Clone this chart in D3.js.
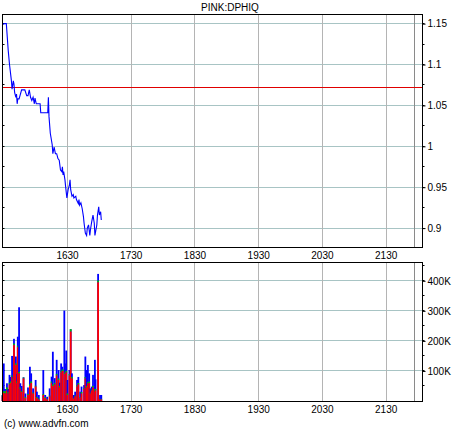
<!DOCTYPE html>
<html>
<head>
<meta charset="utf-8">
<script src="https://cdn.jsdelivr.net/npm/d3@7"></script>
<style>
html,body{margin:0;padding:0;background:#fff;}
svg text{font-family:"Liberation Sans",Arial,sans-serif;font-size:10px;fill:#000;}
</style>
</head>
<body>
<svg id="chart" width="460" height="430"></svg>
<script>
// ---- data ----
const title = "PINK:DPHIQ";
const xTickValues = [1630, 1730, 1830, 1930, 2030, 2130];
const markerDay = 2175;
const refPrice = 1.072;
const priceTicks = [0.9, 0.95, 1, 1.05, 1.1, 1.15];
const priceTickLabels = ["0.9", "0.95", "1", "1.05", "1.1", "1.15"];
const volTicks = [100000, 200000, 300000, 400000];
const volTickLabels = ["100K", "200K", "300K", "400K"];

const priceDays = [1528,1531,1534,1537,1539,1542,1543,1545,1546,1547,1549,1550,1551,1552,1554,1558,1563,1566,1568,1570,1572,1574,1576,1578,1579,1581,1587,1588,1599,1600,1601,1603,1606,1607,1609,1611,1613,1615,1617,1619,1621,1622,1623,1624,1626,1627,1629,1631,1633,1634,1635,1637,1639,1640,1643,1644,1647,1648,1649,1651,1653,1655,1656,1658,1660,1661,1663,1665,1666,1668,1670,1672,1673,1676,1677,1679,1680,1682,1683];
const priceValues = [1.149,1.150,1.150,1.117,1.100,1.080,1.070,1.080,1.076,1.066,1.060,1.064,1.052,1.058,1.058,1.069,1.069,1.062,1.062,1.069,1.060,1.056,1.060,1.052,1.059,1.052,1.052,1.041,1.041,1.060,1.036,1.016,1.002,0.991,0.999,0.991,0.991,0.985,0.983,0.971,0.969,0.975,0.965,0.969,0.959,0.951,0.937,0.947,0.953,0.959,0.947,0.939,0.941,0.937,0.939,0.935,0.930,0.935,0.928,0.931,0.924,0.914,0.906,0.894,0.891,0.900,0.904,0.891,0.898,0.908,0.916,0.906,0.891,0.904,0.916,0.926,0.916,0.920,0.910];

const volDays  = [1528,1530,1532,1535,1537,1539,1541,1543,1545,1546,1549,1551,1552,1554,1556,1558,1561,1564,1568,1571,1573,1576,1580,1582,1585,1592,1595,1598,1602,1605,1607,1610,1613,1616,1618,1620,1622,1625,1626,1628,1630,1633,1635,1637,1640,1642,1645,1647,1650,1652,1656,1658,1660,1662,1664,1666,1668,1670,1673,1674,1678,1681,1683];
const volTotal = [20,125,40,59,40,87,80,150,109,207,148,90,214,312,59,50,79,25,45,114,92,42,70,31,20,103,20,14,42,81,164,76,137,103,61,125,114,301,125,168,70,103,239,92,20,31,70,80,31,48,53,148,103,120,92,42,48,87,137,72,423,20,20];
const volRed   = [15,27,25,35,25,55,60,80,70,186,120,60,179,92,40,30,75,10,20,50,60,25,48,10,5,20,10,5,15,60,50,55,85,70,45,95,100,100,90,95,20,85,231,75,8,15,48,55,10,25,40,75,45,58,60,25,35,45,30,35,395,5,5];
const volGreen = [3,5,8,10,5,5,5,5,5,5,5,5,5,5,5,3,3,3,3,5,5,3,3,3,3,3,3,2,3,5,5,5,5,5,5,5,5,5,5,5,5,5,8,5,2,3,5,5,3,5,3,5,5,5,5,3,3,5,10,5,6,2,2];
const volUnit = 1000;

// ---- layout ----
const svg = d3.select("#chart");
const L = 2.5, R = 422.5;
const top1 = 14.5, bot1 = 247.5;
const top2 = 262.5, bot2 = 401;

const x = d3.scaleLinear().domain([1528, 2187]).range([L, R]);
const yP = d3.scaleLinear().domain([0.8763, 1.1612]).range([bot1, top1]);
const yV = d3.scaleLinear().domain([0, 461000]).range([bot2, top2]);

const hCol = "#a8c4c4", vCol = "#b4b4b4";
const crisp = v => Math.round(v) + 0.5;

// title
svg.append("text").attr("x", 230).attr("y", 11).attr("text-anchor", "middle").text(title);

function panel(yScale, top, bot, ticks, labels, minorStep, domainTop) {
  const g = svg.append("g");
  g.selectAll(".hg").data(ticks).join("line")
    .attr("x1", L).attr("x2", R)
    .attr("y1", d => crisp(yScale(d) - 0.5)).attr("y2", d => crisp(yScale(d) - 0.5))
    .attr("stroke", hCol).attr("stroke-width", 1);
  g.selectAll(".vg").data(xTickValues).join("line")
    .attr("x1", d => crisp(x(d) - 0.5)).attr("x2", d => crisp(x(d) - 0.5))
    .attr("y1", top).attr("y2", bot)
    .attr("stroke", vCol).attr("stroke-width", 1);
  g.append("line")
    .attr("x1", crisp(x(markerDay) - 0.5)).attr("x2", crisp(x(markerDay) - 0.5))
    .attr("y1", top).attr("y2", bot)
    .attr("stroke", "#8a8a8a").attr("stroke-width", 1);
  const minor = d3.range(yScale.domain()[0], domainTop, minorStep)
    .map(v => Math.ceil(v / minorStep - 1e-9) * minorStep)
    .filter(v => yScale(v) > top + 2 && yScale(v) < bot - 1);
  const ax = d3.axisRight(yScale).tickValues(ticks).tickFormat((d, i) => labels[i]).tickSize(3).tickPadding(2);
  const axG = svg.append("g").attr("transform", `translate(${R},0)`).call(ax);
  axG.select(".domain").remove();
  axG.selectAll("text").style("font-family", "Liberation Sans, Arial, sans-serif").style("font-size", "10px");
  svg.append("g").selectAll("line").data(minor).join("line")
    .attr("x1", R).attr("x2", R + 2)
    .attr("y1", d => crisp(yScale(d) - 0.5)).attr("y2", d => crisp(yScale(d) - 0.5))
    .attr("stroke", "#000");
  svg.append("g").selectAll("line").data(minor).join("line")
    .attr("x1", L).attr("x2", L + 2)
    .attr("y1", d => crisp(yScale(d) - 0.5)).attr("y2", d => crisp(yScale(d) - 0.5))
    .attr("stroke", "#000");
  return g;
}

panel(yP, top1, bot1, priceTicks, priceTickLabels, 0.025, 1.17);
panel(yV, top2, bot2, volTicks, volTickLabels, 50000, 470000);

// reference line
svg.append("line")
  .attr("x1", L).attr("x2", R)
  .attr("y1", crisp(yP(refPrice) - 0.5)).attr("y2", crisp(yP(refPrice) - 0.5))
  .attr("stroke", "#e00000").attr("stroke-width", 1);

// price line
const pts = priceDays.map((d, i) => [d, priceValues[i]]);
svg.append("path")
  .datum(pts)
  .attr("fill", "none")
  .attr("stroke", "#0000ff")
  .attr("stroke-width", 1.1)
  .attr("d", d3.line().x(d => x(d[0])).y(d => yP(d[1])));

// volume bars
const bw = 1.8;
const vb = svg.append("g");
volDays.forEach((d, i) => {
  const cx = x(d);
  const t = volTotal[i] * volUnit, r = volRed[i] * volUnit, g = volGreen[i] * volUnit;
  vb.append("rect").attr("x", cx - bw / 2).attr("width", bw)
    .attr("y", yV(t)).attr("height", yV(0) - yV(t)).attr("fill", "#0000ff");
  vb.append("rect").attr("x", cx - bw / 2).attr("width", bw)
    .attr("y", yV(Math.min(r + g, t))).attr("height", yV(r) - yV(Math.min(r + g, t))).attr("fill", "#00c000");
  vb.append("rect").attr("x", cx - bw / 2).attr("width", bw)
    .attr("y", yV(r)).attr("height", yV(0) - yV(r)).attr("fill", "#ff0000");
});

// frames
[[top1, bot1], [top2, bot2 + 0.5]].forEach(([t, b]) => {
  svg.append("rect").attr("x", L).attr("y", t).attr("width", R - L).attr("height", b - t)
    .attr("fill", "none").attr("stroke", "#000").attr("stroke-width", 1);
});

// x labels
[[259], [413]].forEach(([yy]) => {
  svg.append("g").selectAll("text").data(xTickValues).join("text")
    .attr("x", d => x(d)).attr("y", yy).attr("text-anchor", "middle").text(d => d);
});

// copyright
svg.append("text").attr("x", 4).attr("y", 427).text("(c) www.advfn.com");
</script>
</body>
</html>
